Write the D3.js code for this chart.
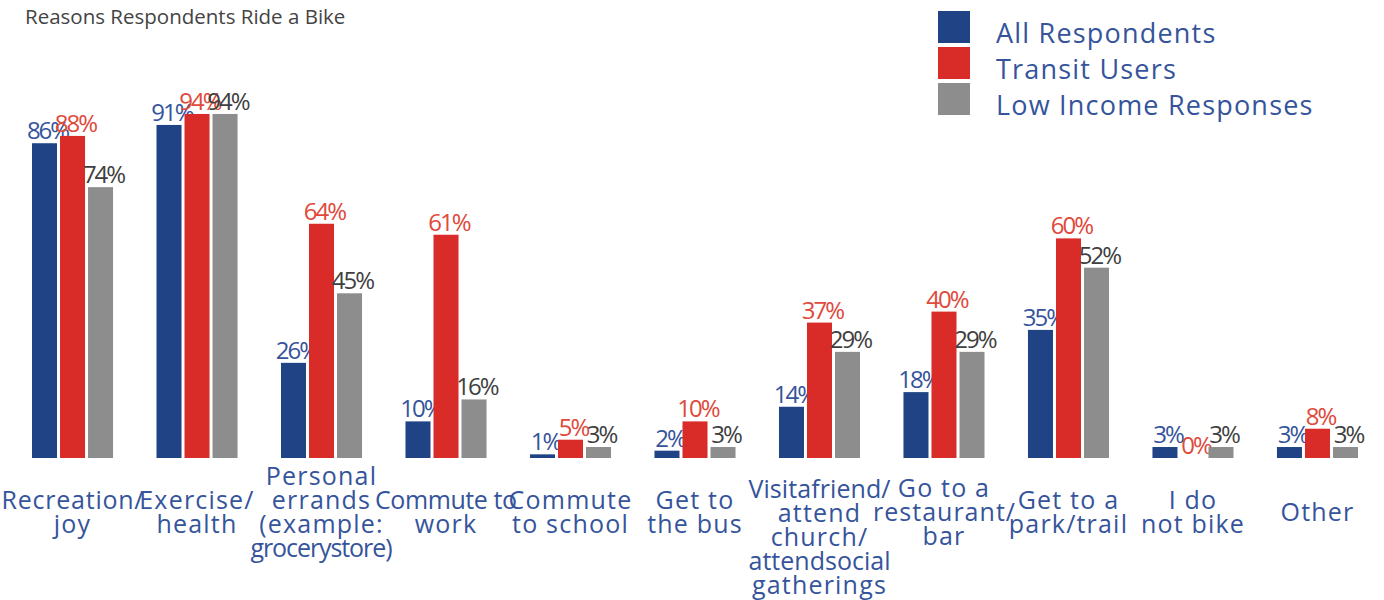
<!DOCTYPE html>
<html>
<head>
<meta charset="utf-8">
<script src="https://cdn.jsdelivr.net/npm/d3@7"></script>
<style>
  html, body { margin: 0; padding: 0; background: #fff; }
  svg { display: block; font-family: "Open Sans", "Noto Sans", sans-serif; }
</style>
</head>
<body>
<svg id="chart" width="1384" height="600"></svg>
<script>
// Survey categories (label lines as printed under each group)
const categories = [
  "Recreation/joy", "Exercise/health", "Personal errands", "Commute to work",
  "Commute to school", "Get to the bus", "Visit a friend", "Go to a restaurant/bar",
  "Get to a park/trail", "I do not bike", "Other"
];
const categoryLines = [
  ["Recreation/", "joy"],
  ["Exercise/", "health"],
  ["Personal", "errands", "(example:", "grocerystore)"],
  ["Commute to", "work"],
  ["Commute", "to school"],
  ["Get to", "the bus"],
  ["Visitafriend/", "attend", "church/", "attendsocial", "gatherings"],
  ["Go to a", "restaurant/", "bar"],
  ["Get to a", "park/trail"],
  ["I do", "not bike"],
  ["Other"]
];

const seriesNames = ["All Respondents", "Transit Users", "Low Income Responses"];

// Percent of respondents per category
const allRespondents = [86, 91, 26, 10, 1, 2, 14, 18, 35, 3, 3];
const transitUsers   = [88, 94, 64, 61, 5, 10, 37, 40, 60, 0, 8];
const lowIncome      = [74, 94, 45, 16, 3, 3, 29, 29, 52, 3, 3];

const seriesValues = [allRespondents, transitUsers, lowIncome];
const barColors   = ["#1f4385", "#d92c29", "#8d8d8d"];
const labelColors = ["#35549b", "#e0493b", "#3f3f3f"];
const textBlue = "#35549b";

const svg = d3.select("#chart");

// Scales
const x0 = d3.scaleBand()
  .domain(categories)
  .range([32, 1358])
  .paddingInner(0.349)
  .paddingOuter(0);

const x1 = d3.scaleBand()
  .domain(seriesNames)
  .range([0, x0.bandwidth()])
  .paddingInner(0.107)
  .paddingOuter(0);

const y = d3.scaleLinear().domain([0, 100]).range([458, 92]);

// Title
svg.append("text")
  .attr("x", 25).attr("y", 24)
  .attr("font-size", 20.5)
  .attr("fill", "#444")
  .text("Reasons Respondents Ride a Bike");

// Bars and value labels
const groups = svg.append("g").selectAll("g")
  .data(categories)
  .join("g")
  .attr("transform", d => `translate(${x0(d)},0)`);

groups.each(function(cat, ci) {
  const g = d3.select(this);
  seriesNames.forEach((s, si) => {
    const v = seriesValues[si][ci];
    g.append("rect")
      .attr("x", x1(s))
      .attr("y", y(v))
      .attr("width", x1.bandwidth())
      .attr("height", y(0) - y(v))
      .attr("fill", barColors[si]);
    g.append("text")
      .attr("x", x1(s) + x1.bandwidth() / 2 + 3)
      .attr("y", y(v) - 4)
      .attr("text-anchor", "middle")
      .attr("font-size", 24)
      .attr("letter-spacing", -2)
      .attr("fill", labelColors[si])
      .text(v + "%");
  });
});

// Category labels, wrapped into lines and squeezed when too wide
const maxLineWidth = 142;
const lineStep = 24;
categories.forEach((cat, ci) => {
  const lines = categoryLines[ci];
  const n = lines.length;
  const first = n > 4 ? 498 : 521 - (n - 1) * lineStep / 2;
  const cx = x0(cat) + x0.bandwidth() / 2;
  lines.forEach((line, li) => {
    const t = svg.append("text")
      .attr("x", cx)
      .attr("y", first + li * lineStep)
      .attr("text-anchor", "middle")
      .attr("font-size", 25)
      .attr("letter-spacing", 1.2)
      .attr("fill", textBlue)
      .text(line);
    const w = t.node().getComputedTextLength();
    if (w > maxLineWidth) {
      t.attr("letter-spacing", null)
       .attr("textLength", maxLineWidth)
       .attr("lengthAdjust", "spacing");
    }
  });
});

// Legend
const legend = svg.append("g");
seriesNames.forEach((s, i) => {
  legend.append("rect")
    .attr("x", 938).attr("y", 11 + i * 36)
    .attr("width", 32).attr("height", 32)
    .attr("fill", barColors[i]);
  legend.append("text")
    .attr("x", 996).attr("y", 43 + i * 36)
    .attr("font-size", 27)
    .attr("letter-spacing", 1.2)
    .attr("fill", textBlue)
    .text(s);
});
</script>
</body>
</html>
